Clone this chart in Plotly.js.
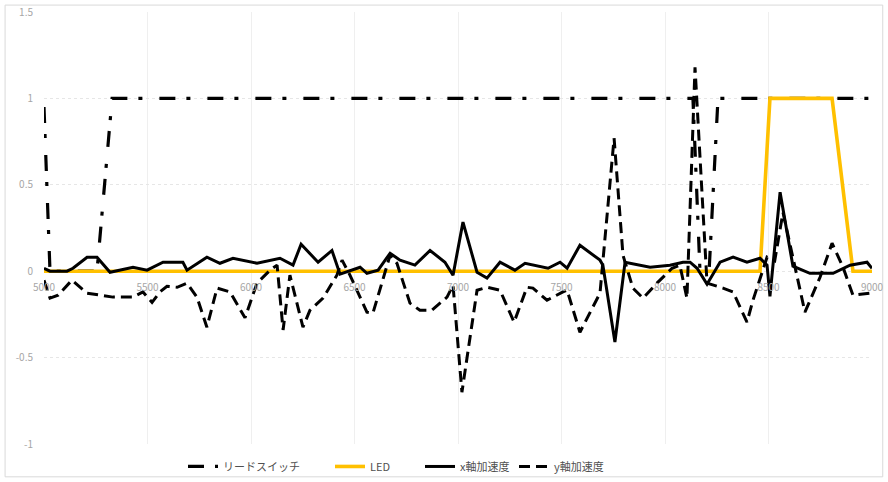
<!DOCTYPE html>
<html>
<head>
<meta charset="utf-8">
<script src="https://cdn.plot.ly/plotly-3.0.1.min.js"></script>
<style>html,body{margin:0;padding:0;background:#fff;}#chart{width:888px;height:482px;}</style>
</head>
<body>
<div id="chart"></div>
<script>
// ---- data ----
const seriesNames = ["リードスイッチ", "LED", "x軸加速度", "y軸加速度"];

const reedX = [5000, 5029, 5256, 5329, 8135, 8169, 8213, 8256, 9000];
const reedY = [0.95, 0, 0, 1, 1, 0, 0, 1, 1];

const ledX = [5000, 8459, 8507, 8807, 8908, 9000];
const ledY = [0, 0, 1, 1, 0, 0];

const accXx = [5000, 5029, 5111, 5140, 5208, 5256, 5319, 5430, 5498, 5575, 5671, 5691, 5787, 5850, 5913, 6029, 6140, 6203, 6242, 6324, 6391, 6430, 6527, 6560, 6614, 6672, 6720, 6792, 6865, 6937, 6976, 7024, 7092, 7140, 7203, 7275, 7324, 7435, 7493, 7527, 7589, 7686, 7700, 7758, 7807, 7865, 7928, 8024, 8087, 8121, 8155, 8203, 8266, 8329, 8396, 8459, 8493, 8507, 8556, 8618, 8700, 8812, 8894, 8976, 9000];
const accXy = [0.017, 0, 0, 0.017, 0.081, 0.081, -0.006, 0.023, 0.006, 0.052, 0.052, 0.006, 0.081, 0.046, 0.075, 0.046, 0.075, 0.035, 0.156, 0.052, 0.12, -0.017, 0.023, -0.012, 0.006, 0.104, 0.064, 0.035, 0.12, 0.052, -0.023, 0.284, -0.006, -0.04, 0.052, 0.006, 0.046, 0.017, 0.052, 0.017, 0.15, 0.064, 0.035, -0.41, 0.052, 0.04, 0.023, 0.035, 0.052, 0.052, 0.017, -0.075, 0.052, 0.081, 0.052, 0.075, 0.035, -0.145, 0.457, 0.029, -0.012, -0.012, 0.035, 0.052, 0.017];

const accYx = [5000, 5029, 5068, 5135, 5208, 5333, 5430, 5478, 5522, 5560, 5594, 5643, 5691, 5739, 5787, 5836, 5899, 5971, 6029, 6092, 6126, 6155, 6188, 6251, 6285, 6348, 6415, 6440, 6478, 6560, 6589, 6657, 6672, 6705, 6768, 6816, 6874, 6947, 6976, 7019, 7092, 7140, 7203, 7271, 7333, 7362, 7430, 7507, 7527, 7589, 7686, 7754, 7797, 7845, 7894, 7961, 8034, 8072, 8106, 8145, 8203, 8280, 8329, 8396, 8425, 8493, 8530, 8570, 8676, 8749, 8807, 8860, 8908, 8990];
const accYy = [-0.052, -0.156, -0.139, -0.052, -0.127, -0.15, -0.15, -0.12, -0.18, -0.12, -0.087, -0.093, -0.069, -0.15, -0.324, -0.098, -0.12, -0.27, -0.069, 0.006, 0.035, -0.34, -0.023, -0.324, -0.226, -0.156, -0.023, 0.064, -0.023, -0.237, -0.243, 0.023, 0.093, 0.046, -0.185, -0.226, -0.226, -0.15, -0.081, -0.70, -0.11, -0.093, -0.11, -0.295, -0.093, -0.098, -0.168, -0.12, -0.11, -0.353, -0.127, 0.77, 0.093, -0.098, -0.156, -0.069, 0.017, 0.035, -0.156, 1.18, -0.069, -0.098, -0.12, -0.295, -0.168, 0.081, 0.06, 0.34, -0.237, -0.035, 0.162, 0.023, -0.139, -0.127];

const xTickVals = [5000, 5500, 6000, 6500, 7000, 7500, 8000, 8500, 9000];
const xTickText = ["5000", "5500", "6000", "6500", "7000", "7500", "8000", "8500", "9000"];
const yTickVals = [1.5, 1, 0.5, 0, -0.5, -1];
const yTickText = ["1.5", "1", "0.5", "0", "-0.5", "-1"];

// ---- chart ----
const traces = [
  {x: reedX, y: reedY, name: seriesNames[0], mode: "lines", legend: "legend",
   line: {color: "#000", width: 3.2, dash: "16px,11px,4px,17px"}},
  {x: ledX, y: ledY, name: seriesNames[1], mode: "lines", legend: "legend2",
   line: {color: "#FFC000", width: 3.6}},
  {x: accXx, y: accXy, name: seriesNames[2], mode: "lines", legend: "legend3",
   line: {color: "#000", width: 3}},
  {x: accYx, y: accYy, name: seriesNames[3], mode: "lines", legend: "legend4",
   line: {color: "#000", width: 3, dash: "11px,6px"}}
];

const font = "'Noto Sans CJK JP', 'Liberation Sans', sans-serif";
function leg(px) {
  return {orientation: "h", x: (px - 44) / 828, xanchor: "left", y: -0.052, yanchor: "middle",
          font: {size: 11, color: "#505050"}, itemwidth: 30, bgcolor: "rgba(0,0,0,0)"};
}
const layout = {
  width: 888, height: 482,
  margin: {l: 44, r: 16, t: 12, b: 38, autoexpand: false},
  paper_bgcolor: "#fff", plot_bgcolor: "#fff",
  font: {family: font, color: "#595959", size: 11},
  showlegend: true,
  legend: leg(183), legend2: leg(330), legend3: leg(420), legend4: leg(514),
  xaxis: {range: [5000, 9000], tickvals: xTickVals, ticktext: xTickText,
          anchor: "free", position: 0.4, showline: false, zeroline: false,
          showgrid: true, gridcolor: "#efefef", gridwidth: 1,
          ticks: "", ticklabelstandoff: 9, tickfont: {size: 10, color: "#a6a6a6"}, fixedrange: true},
  yaxis: {range: [-1, 1.5], tickvals: yTickVals, ticktext: yTickText,
          showline: false, zeroline: false, showgrid: true, gridcolor: "#e6e6e6",
          griddash: "dot", gridwidth: 1, ticks: "", ticklabelstandoff: 10,
          tickfont: {size: 10, color: "#a6a6a6"}, fixedrange: true},
  shapes: [
    {type: "rect", xref: "paper", yref: "paper", x0: -0.047, x1: 1.013, y0: -0.076, y1: 1.016,
     line: {color: "#d9d9d9", width: 1}, fillcolor: "rgba(0,0,0,0)", layer: "below"}
  ]
};

Plotly.newPlot("chart", traces, layout, {displayModeBar: false, staticPlot: true});
</script>
</body>
</html>
